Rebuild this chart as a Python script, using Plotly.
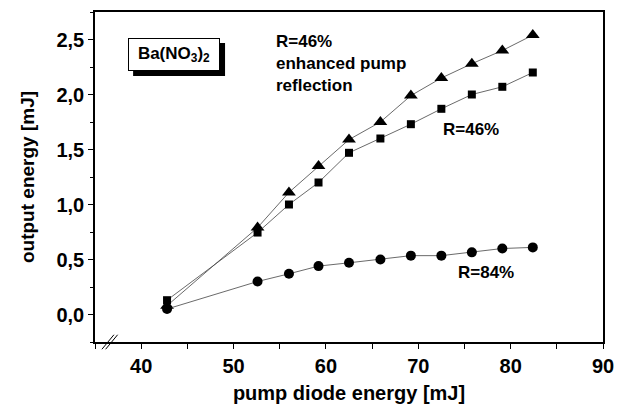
import plotly.graph_objects as go

pump = [42.8, 52.6, 56.0, 59.2, 62.5, 65.9, 69.2, 72.5, 75.8, 79.1, 82.4]
r46_enh = [0.08, 0.79, 1.11, 1.35, 1.59, 1.75, 1.99, 2.15, 2.28, 2.40, 2.54]
r46 = [0.13, 0.745, 1.00, 1.20, 1.47, 1.60, 1.73, 1.87, 2.00, 2.07, 2.20]
r84 = [0.05, 0.30, 0.37, 0.44, 0.47, 0.50, 0.535, 0.535, 0.565, 0.60, 0.61]

FONT = "Liberation Sans, Arial, sans-serif"
line_style = dict(color="#444", width=0.8)

fig = go.Figure()
fig.add_trace(go.Scatter(x=pump, y=r46_enh, mode="lines+markers", line=line_style,
                         marker=dict(symbol="triangle-up", size=12, color="black")))
fig.add_trace(go.Scatter(x=pump, y=r46, mode="lines+markers", line=line_style,
                         marker=dict(symbol="square", size=8, color="black")))
fig.add_trace(go.Scatter(x=pump, y=r84, mode="lines+markers", line=line_style,
                         marker=dict(symbol="circle", size=10, color="black")))

axis_common = dict(showline=True, linecolor="black", linewidth=1.5, mirror=True,
                   ticks="outside", ticklen=5, tickwidth=1.2, tickcolor="black",
                   showgrid=False, zeroline=False, automargin=False,
                   tickfont=dict(family=FONT, size=20, color="black", weight="bold"))

fig.update_xaxes(range=[35, 90], tickvals=[40, 50, 60, 70, 80, 90],
                 minor=dict(ticks="outside", ticklen=5, tickcolor="black", dtick=5, tick0=0),
                 title_text="pump diode energy [mJ]", title_standoff=20,
                 title_font=dict(family=FONT, size=20, color="black", weight="bold"),
                 **axis_common)
fig.update_yaxes(range=[-0.25, 2.75], tickvals=[0, 0.5, 1.0, 1.5, 2.0, 2.5],
                 tickformat=".1f",
                 minor=dict(ticks="outside", ticklen=3, tickcolor="black", dtick=0.25, tick0=0),
                 title_text="output energy [mJ]", title_standoff=17,
                 title_font=dict(family=FONT, size=19, color="black", weight="bold"),
                 **axis_common)

# Ba(NO3)2 label box with shadow
fig.add_shape(type="rect", xref="paper", yref="paper", x0=0.075, x1=0.256, y0=0.806, y1=0.906,
              fillcolor="black", line=dict(width=0), layer="below")
fig.add_annotation(xref="paper", yref="paper", x=0.1555, y=0.871, xanchor="center", yanchor="middle",
                   showarrow=False,
                   text="Ba(NO<sub>3</sub>)<sub>2</sub>", width=88, height=29,
                   bgcolor="white", bordercolor="black", borderwidth=1, borderpad=1,
                   font=dict(family=FONT, size=17, color="black", weight="bold"))

# axis break marks
for x0 in (35.75, 36.15):
    fig.add_shape(type="line", xref="x", yref="paper", x0=x0, x1=x0 + 1.3, y0=-0.022, y1=0.022,
                  line=dict(color="black", width=1))

ann_font = dict(family=FONT, size=17, color="black", weight="bold")
fig.add_annotation(x=54.4, y=2.59, xanchor="left", yanchor="top", align="left", showarrow=False,
                   text="R=46%<br>enhanced pump<br>reflection", font=ann_font)
fig.add_annotation(x=75.7, y=1.68, xanchor="center", showarrow=False, text="R=46%", font=ann_font)
fig.add_annotation(x=77.3, y=0.38, xanchor="center", showarrow=False, text="R=84%", font=ann_font)

fig.update_layout(width=626, height=404, margin=dict(l=95, r=23, t=12, b=62),
                  paper_bgcolor="white", plot_bgcolor="rgba(0,0,0,0)", showlegend=False,
                  separators=",.")
fig.write_html("out.html")
